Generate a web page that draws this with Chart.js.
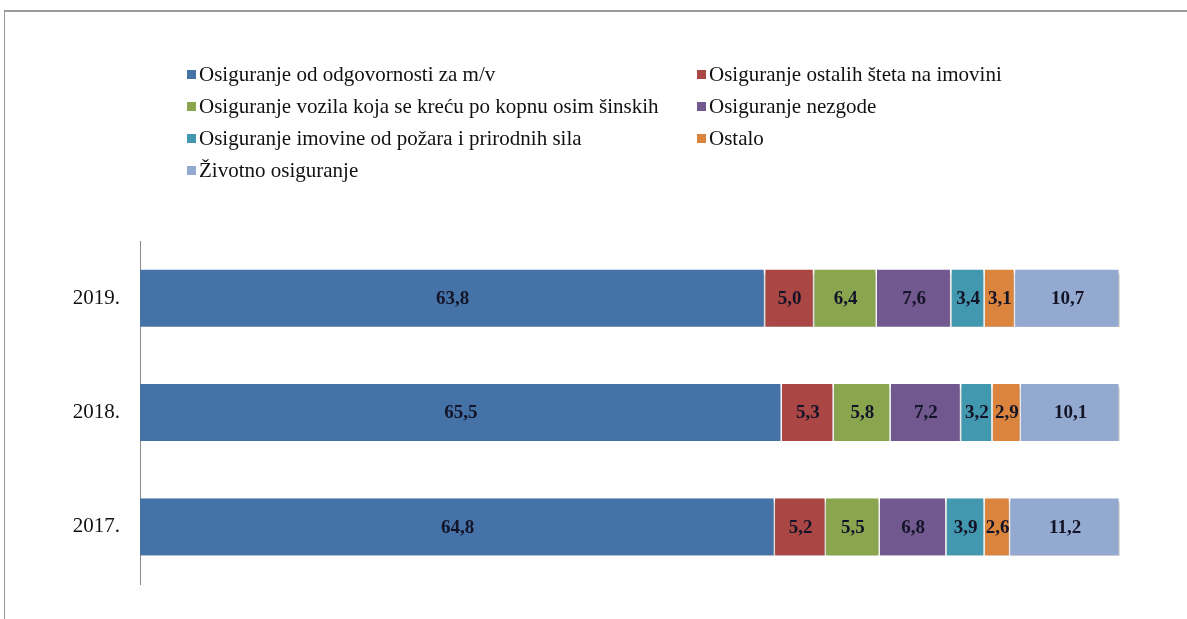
<!DOCTYPE html>
<html><head><meta charset="utf-8">
<script src="https://cdn.jsdelivr.net/npm/chart.js@4/dist/chart.umd.min.js"></script>
<style>
html,body{margin:0;padding:0;background:#fff;}
#wrap{position:relative;width:1187px;height:619px;overflow:hidden;}
#frame{position:absolute;left:4px;top:10px;width:1200px;height:700px;border-top:2px solid #9a9a9a;border-left:1px solid #9a9a9a;}
#c{position:absolute;left:0;top:0;}
#legend{position:absolute;left:187px;top:61px;display:grid;grid-template-columns:510px 400px;row-gap:6px;font-family:"Liberation Serif","Times New Roman",serif;font-size:21px;color:#111;}
#legend div{display:flex;align-items:center;height:26px;white-space:nowrap;}
#legend span.sw{display:inline-block;width:9px;height:9px;margin-right:3px;}
</style></head>
<body><div id="wrap"><div id="frame"></div><canvas id="c" width="1187" height="619"></canvas><div id="legend"></div></div>
<script>
const categories = ["2019.", "2018.", "2017."];
const seriesNames = [
  "Osiguranje od odgovornosti za m/v",
  "Osiguranje ostalih šteta na imovini",
  "Osiguranje vozila koja se kreću po kopnu osim šinskih",
  "Osiguranje nezgode",
  "Osiguranje imovine od požara i prirodnih sila",
  "Ostalo",
  "Životno osiguranje"
];
const odgovornost = [63.8, 65.5, 64.8];
const ostaleStete = [5.0, 5.3, 5.2];
const vozila = [6.4, 5.8, 5.5];
const nezgode = [7.6, 7.2, 6.8];
const pozar = [3.4, 3.2, 3.9];
const ostalo = [3.1, 2.9, 2.6];
const zivotno = [10.7, 10.1, 11.2];
const colors = ["#4572A7", "#AA4643", "#89A54E", "#71588F", "#4198AF", "#DB843D", "#93A9CF"];

const seriesValues = [odgovornost, ostaleStete, vozila, nezgode, pozar, ostalo, zivotno];

const labelPlugin = {
  id: "barLabels",
  afterDatasetsDraw(chart) {
    const ctx = chart.ctx;
    ctx.save();
    ctx.font = "bold 19px 'Liberation Serif', 'Times New Roman', serif";
    ctx.fillStyle = "#141428";
    ctx.textAlign = "center";
    ctx.textBaseline = "middle";
    chart.data.datasets.forEach((ds, i) => {
      chart.getDatasetMeta(i).data.forEach((bar, j) => {
        const x = (bar.x + bar.base) / 2;
        ctx.fillText(ds.data[j].toFixed(1).replace(".", ","), x, bar.y + 1);
      });
    });
    ctx.restore();
  }
};
const shadowPlugin = {
  id: "shadow",
  beforeDatasetsDraw(chart) {
    const ctx = chart.ctx;
    ctx.save();
    ctx.shadowColor = "rgba(0,0,0,0.35)";
    ctx.shadowBlur = 3;
    ctx.shadowOffsetY = 3;
  },
  afterDatasetsDraw(chart) { chart.ctx.restore(); }
};

const chart = new Chart(document.getElementById("c"), {
  type: "bar",
  data: {
    labels: categories,
    datasets: seriesNames.map((n, i) => ({
      label: n,
      data: seriesValues[i],
      backgroundColor: colors[i],
      borderColor: "#ffffff",
      borderWidth: {left: 0, right: 1.5, top: 0, bottom: 0},
      borderSkipped: false,
      barPercentage: 0.5,
      categoryPercentage: 1.0
    }))
  },
  options: {
    indexAxis: "y",
    responsive: false,
    animation: false,
    layout: {padding: {left: 0, right: 67, top: 241, bottom: 35}},
    plugins: {legend: {display: false}, tooltip: {enabled: false}},
    scales: {
      x: {stacked: true, min: 0, max: 100, display: false},
      y: {
        stacked: true,
        afterFit: s => { s.width = 140; },
        grid: {display: false, drawTicks: false},
        border: {display: true, color: "#8a8a8a", width: 1},
        ticks: {padding: 20, color: "#111", font: {family: "'Liberation Serif', 'Times New Roman', serif", size: 21}}
      }
    }
  },
  plugins: [shadowPlugin, labelPlugin]
});

const leg = document.getElementById("legend");
seriesNames.forEach((n, i) => {
  const d = document.createElement("div");
  d.innerHTML = '<span class="sw" style="background:' + colors[i] + '"></span>' + n;
  leg.appendChild(d);
});
</script></body></html>
